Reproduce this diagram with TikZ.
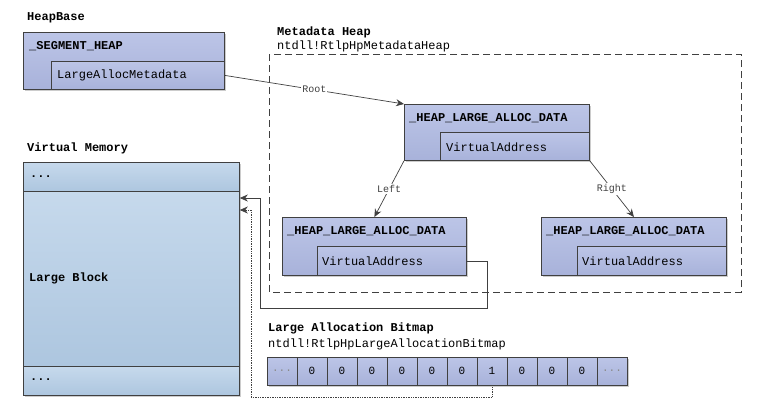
\documentclass[tikz,border=0pt]{standalone}
\usepackage{fontspec}
\setmonofont{Liberation Mono}
\usetikzlibrary{shadows,arrows.meta}
\definecolor{edgegray}{HTML}{404040}
\definecolor{heaptop}{HTML}{BCC5E7}
\definecolor{heapbot}{HTML}{A8B2DA}
\definecolor{vmtop}{HTML}{C6D9EC}
\definecolor{vmbot}{HTML}{ADC6DF}
\definecolor{dotgray}{HTML}{8A8A8A}

\tikzset{
  structbox/.style={draw=edgegray, line width=0.8pt, top color=heaptop, bottom color=heapbot,
    anchor=north west, inner sep=0pt,
    drop shadow={shadow xshift=2pt, shadow yshift=-2pt, fill=black, opacity=0.2}},
  fieldbox/.style={draw=edgegray, line width=0.8pt, top color=heaptop, bottom color=heapbot,
    anchor=north west, inner sep=0pt},
  memcell/.style={draw=edgegray, line width=0.8pt, top color=vmtop, bottom color=vmbot,
    anchor=north west, inner sep=0pt},
  bitcell/.style={draw=edgegray, line width=0.8pt, top color=heaptop, bottom color=heapbot,
    inner sep=0pt, minimum width=30pt, minimum height=28pt,
    font=\fontsize{11}{13}\selectfont\ttfamily},
  title/.style={anchor=west, inner sep=0pt, font=\fontsize{12}{14}\selectfont\ttfamily\bfseries},
  field/.style={anchor=west, inner sep=0pt, font=\fontsize{12}{14}\selectfont\ttfamily},
  edgelbl/.style={fill=white, inner sep=1pt, text=edgegray,
    font=\fontsize{10}{12}\selectfont\ttfamily},
  ptr/.style={draw=edgegray, line width=0.7pt, -{Stealth[length=8pt,width=7pt]}},
}

\begin{document}
\begin{tikzpicture}[x=1pt,y=-1pt]
  \useasboundingbox (0,0) rectangle (767,416);

  % segment heap
  \node[title] (heapbase) at (27,18) {HeapBase};
  \node[structbox, minimum width=201pt, minimum height=57pt] (seg) at (23,32) {};
  \node[title] (segtitle) at (29,46) {\_SEGMENT\_HEAP};
  \node[fieldbox, minimum width=173pt, minimum height=28pt] (lam) at (51,61) {};
  \node[field] (lamtext) at (57,75) {LargeAllocMetadata};

  % metadata heap
  \node[title] (mdtitle) at (277,32) {Metadata Heap};
  \node[field] (mdsym) at (277,46) {ntdll!RtlpHpMetadataHeap};
  \draw[edgegray, line width=0.8pt, dash pattern=on 7pt off 4pt] (269,54) rectangle (741,292);

  \node[structbox, minimum width=185pt, minimum height=56pt] (top) at (404,104) {};
  \node[title] (toptitle) at (409,118) {\_HEAP\_LARGE\_ALLOC\_DATA};
  \node[fieldbox, minimum width=149pt, minimum height=28pt] (tva) at (440,132) {};
  \node[field] (tvatext) at (446,147) {VirtualAddress};

  \node[structbox, minimum width=184pt, minimum height=58pt] (left) at (282,217) {};
  \node[title] (lefttitle) at (287,231) {\_HEAP\_LARGE\_ALLOC\_DATA};
  \node[fieldbox, minimum width=149pt, minimum height=29pt] (lva) at (317,246) {};
  \node[field] (lvatext) at (322,261) {VirtualAddress};

  \node[structbox, minimum width=185pt, minimum height=58pt] (right) at (541,217) {};
  \node[title] (righttitle) at (546,231) {\_HEAP\_LARGE\_ALLOC\_DATA};
  \node[fieldbox, minimum width=149pt, minimum height=29pt] (rva) at (577,246) {};
  \node[field] (rvatext) at (582,261) {VirtualAddress};

  % virtual memory
  \node[title] (vmtitle) at (27,148) {Virtual Memory};
  \node[memcell, minimum width=216pt, minimum height=233pt,
    drop shadow={shadow xshift=2pt, shadow yshift=-2pt, fill=black, opacity=0.2}] (vm) at (23,162) {};
  \node[memcell, minimum width=216pt, minimum height=29pt] (vmtop) at (23,162) {};
  \node[memcell, minimum width=216pt, minimum height=175pt] (vmblock) at (23,191) {};
  \node[memcell, minimum width=216pt, minimum height=29pt] (vmbot) at (23,366) {};
  \node[title] (vmtoptext) at (30,177) {...};
  \node[title] (vmblocktext) at (29,278) {Large Block};
  \node[title] (vmbottext) at (30,380) {...};

  % bitmap
  \node[title] (bmtitle) at (268,328) {Large Allocation Bitmap};
  \node[field] (bmsym) at (268,344) {ntdll!RtlpHpLargeAllocationBitmap};
  \fill[black, opacity=0.2] (269,359) rectangle (629,387);
  \foreach \v [count=\i] in {{\textcolor{dotgray}{...}},0,0,0,0,0,0,1,0,0,0,{\textcolor{dotgray}{...}}}
    \node[bitcell] (bit\i) at (282+\i*30-30,371) {\v};

  % pointers
  \draw[ptr] (lam.east) -- node[edgelbl] {Root} (top.north west);
  \draw[ptr] (top.south west) -- node[edgelbl] {Left} (left.north);
  \draw[ptr] (top.south east) -- node[edgelbl] {Right} (right.north);
  \draw[ptr] (lva.east) -| (487,308) -| (260,198) -- ([yshift=-7pt]vmblock.north east);
  \draw[ptr, densely dotted] (bit8.south) |- (251,397) |- ([yshift=-19pt]vmblock.north east);
\end{tikzpicture}
\end{document}
